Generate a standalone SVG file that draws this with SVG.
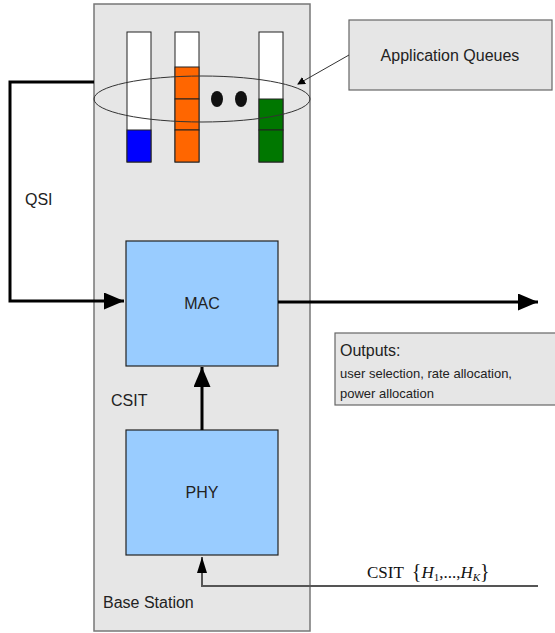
<svg xmlns="http://www.w3.org/2000/svg" width="555" height="633" viewBox="0 0 555 633">
<style>
.t{font-family:"Liberation Sans",Arial,sans-serif;fill:#222}
.blk{fill:#99ccff;stroke:#222;stroke-width:1.2}
.q{stroke:#222;stroke-width:1}
.thick{fill:none;stroke:#000;stroke-width:3}
</style>
<defs>
<marker id="ah" markerWidth="8" markerHeight="8" refX="7" refY="4" orient="auto" markerUnits="userSpaceOnUse" viewBox="0 0 8 8"><path d="M0,0 L8,4 L0,8 z" fill="#000"/></marker>
<marker id="ahb" markerWidth="20" markerHeight="17" refX="20" refY="8.5" orient="auto" markerUnits="userSpaceOnUse" viewBox="0 0 20 17"><path d="M0,0 L20,8.5 L0,17 z" fill="#000"/></marker>
<marker id="ahs" markerWidth="16" markerHeight="10" refX="16" refY="5" orient="auto" markerUnits="userSpaceOnUse" viewBox="0 0 16 10"><path d="M0,0 L16,5 L0,10 z" fill="#000"/></marker>
</defs>
<g id="base-station">
<rect x="94" y="4" width="216" height="627" fill="#e6e6e6" stroke="#777" stroke-width="1.5"/>
<text class="t" x="103" y="608" font-size="16">Base Station</text>
</g>
<g id="queues">
<rect class="q" x="127" y="32" width="24" height="130" fill="#fff"/>
<rect class="q" x="127" y="130" width="24" height="32" fill="#0000ff"/>
<rect class="q" x="175" y="32" width="24" height="130" fill="#fff"/>
<rect class="q" x="175" y="67" width="24" height="32" fill="#ff6600"/>
<rect class="q" x="175" y="99" width="24" height="31" fill="#ff6600"/>
<rect class="q" x="175" y="130" width="24" height="32" fill="#ff6600"/>
<rect class="q" x="259" y="32" width="24" height="130" fill="#fff"/>
<rect class="q" x="259" y="99" width="24" height="31" fill="#007700"/>
<rect class="q" x="259" y="130" width="24" height="32" fill="#007700"/>
<ellipse cx="217" cy="99" rx="6" ry="8" fill="#111"/>
<ellipse cx="241" cy="99" rx="6" ry="8" fill="#111"/>
<ellipse cx="202" cy="99" rx="108" ry="23" fill="none" stroke="#333" stroke-width="1"/>
</g>
<g id="app-queues">
<rect x="349" y="20" width="203" height="70" fill="#e6e6e6" stroke="#666" stroke-width="1.2"/>
<text class="t" x="450" y="61" font-size="16" text-anchor="middle">Application Queues</text>
</g>
<g id="mac">
<rect class="blk" x="126" y="241" width="152" height="125"/>
<text class="t" x="202" y="309" font-size="16" text-anchor="middle">MAC</text>
</g>
<g id="phy">
<rect class="blk" x="126" y="430" width="152" height="125"/>
<text class="t" x="202" y="498" font-size="16" text-anchor="middle">PHY</text>
</g>
<g id="outputs">
<rect x="335" y="333" width="225" height="72" fill="#e6e6e6" stroke="#666" stroke-width="1.2"/>
<text class="t" x="340" y="356" font-size="16">Outputs:</text>
<text class="t" x="340" y="378" font-size="13">user selection, rate allocation,</text>
<text class="t" x="340" y="398" font-size="13">power allocation</text>
</g>
<g id="connectors">
<line x1="349" y1="55" x2="298" y2="84" stroke="#333" stroke-width="1" marker-end="url(#ah)"/>
<path class="thick" d="M94,82 H10 V301 H124" marker-end="url(#ahb)"/>
<path class="thick" d="M278,302 H538" marker-end="url(#ahb)"/>
<path class="thick" d="M202,430 V367" marker-end="url(#ahb)"/>
<path d="M538,586 H202 V557" fill="none" stroke="#555" stroke-width="2" marker-end="url(#ahs)"/>
</g>
<g id="labels">
<text class="t" x="25" y="205" font-size="16">QSI</text>
<text class="t" x="111" y="406" font-size="16">CSIT</text>
<text x="367" y="578" font-family="Liberation Serif,'Times New Roman',serif" font-size="17" fill="#111">CSIT <tspan dx="4" font-size="20">{</tspan><tspan font-style="italic">H</tspan><tspan font-size="11" dy="3">1</tspan><tspan dy="-3">,...,</tspan><tspan font-style="italic">H</tspan><tspan font-size="11" font-style="italic" dy="3">K</tspan><tspan dy="-3" font-size="20">}</tspan></text>
</g>
</svg>
